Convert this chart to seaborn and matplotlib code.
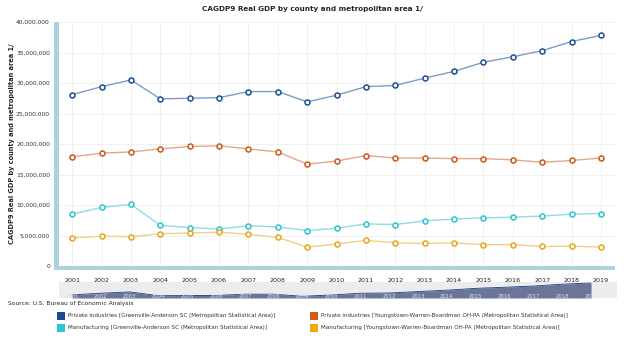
import matplotlib
matplotlib.use("Agg")
import matplotlib.pyplot as plt
from matplotlib.patches import Rectangle
import seaborn as sns
import pandas as pd
import numpy as np

years = list(range(2001, 2020))
private_greenville = [28.1, 29.4, 30.5, 27.4, 27.5, 27.6, 28.6, 28.6, 26.9, 28.0, 29.4, 29.6, 30.8,
                      31.9, 33.4, 34.3, 35.3, 36.8, 37.8]
private_youngstown = [17.9, 18.5, 18.7, 19.2, 19.6, 19.7, 19.2, 18.7, 16.7, 17.2, 18.1, 17.7, 17.7,
                      17.6, 17.6, 17.4, 17.0, 17.3, 17.7]
manuf_greenville = [8.5, 9.6, 10.1, 6.65, 6.3, 6.05, 6.6, 6.4, 5.8, 6.2, 6.9, 6.8, 7.4,
                    7.7, 7.9, 8.0, 8.2, 8.5, 8.6]
manuf_youngstown = [4.6, 4.9, 4.8, 5.3, 5.4, 5.55, 5.2, 4.7, 3.1, 3.6, 4.2, 3.8, 3.7,
                    3.8, 3.5, 3.5, 3.2, 3.25, 3.1]

series_names = [
    "Private industries [Greenville-Anderson SC (Metropolitan Statistical Area)]",
    "Private industries [Youngstown-Warren-Boardman OH-PA (Metropolitan Statistical Area)]",
    "Manufacturing [Greenville-Anderson SC (Metropolitan Statistical Area)]",
    "Manufacturing [Youngstown-Warren-Boardman OH-PA (Metropolitan Statistical Area)]",
]
series_values = [private_greenville, private_youngstown, manuf_greenville, manuf_youngstown]
marker_colors = ["#1d4f91", "#c8581d", "#2cc4cf", "#e8a617"]
line_colors = ["#7d9cc6", "#e3a88a", "#8fdde2", "#f2cf86"]
legend_colors = ["#1c4a8f", "#d9591b", "#2cc8d2", "#f5a90a"]

title = "CAGDP9 Real GDP by county and metropolitan area 1/"
ylabel = "CAGDP9 Real GDP by county and metropolitan area 1/"
source = "Source: U.S. Bureau of Economic Analysis"

rows = []
for name, vals in zip(series_names, series_values):
    for y, v in zip(years, vals):
        rows.append({"year": y, "value": v * 1e6, "series": name})
df = pd.DataFrame(rows)

sns.set_theme(style="white")
plt.rcParams["font.family"] = ["DejaVu Sans"]

W, H = 624, 344
fig = plt.figure(figsize=(W / 100, H / 100), dpi=100)
fig.patch.set_facecolor("white")

def px_axes(x0, y0, x1, y1):
    return fig.add_axes([x0 / W, 1 - y1 / H, (x1 - x0) / W, (y1 - y0) / H])

ax = px_axes(59, 22, 615, 266)
for i, name in enumerate(series_names):
    sub = df[df["series"] == name]
    sns.lineplot(data=sub, x="year", y="value", ax=ax, color=line_colors[i], lw=1.0,
                 marker="o", markersize=3.6, markerfacecolor="white",
                 markeredgecolor=marker_colors[i], markeredgewidth=1.1, legend=False)

ax.set_xlim(2000.55, 2019.48)
ax.set_ylim(0, 40e6)
ax.set_yticks(np.arange(0, 40e6 + 1, 5e6))
ax.set_yticklabels([f"{int(v):,}" for v in np.arange(0, 40e6 + 1, 5e6)], fontsize=4.3, color="#333333")
ax.set_xticks(years)
ax.set_xticklabels([str(y) for y in years], fontsize=4.6, color="#222222")
ax.tick_params(axis="y", pad=6.5, length=0)
ax.tick_params(axis="x", pad=9, length=0)
ax.grid(True, color="#eeeeee", lw=0.6)
ax.set_axisbelow(True)
for s in ax.spines.values():
    s.set_visible(False)
ax.set_xlabel("")
ax.set_ylabel(ylabel, fontsize=4.8, fontweight="bold", labelpad=0.5)

# light blue axis bars
fig.patches.append(Rectangle((54 / W, 1 - 270 / H), 5 / W, 248 / H, transform=fig.transFigure,
                             facecolor="#a9d3df", edgecolor="none"))
fig.patches.append(Rectangle((58 / W, 1 - 269.5 / H), 557 / W, 4 / H, transform=fig.transFigure,
                             facecolor="#a9d3df", edgecolor="none"))

fig.text(0.5, 1 - 9 / H, title, ha="center", va="center", fontsize=5.2, fontweight="bold")

# navigator
nav = px_axes(59, 282, 617, 298)
nav.set_facecolor("#ececec")
nav.fill_between(years, private_greenville, 25.5, color="#6a7699", lw=0)
nav.plot(years, [v + 0.35 for v in private_greenville], color="white", lw=0.8)
nav.plot(years, private_greenville, color="#2c4a84", lw=0.7)
nav.set_xlim(2000.55, 2019.9)
nav.set_ylim(25.5, 38.6)
for y in years:
    nav.text(y, 26.8, str(y), fontsize=3.8, color="#dfe3ee", ha="center", va="center")
nav.set_xticks([])
nav.set_yticks([])
for s in nav.spines.values():
    s.set_visible(False)

fig.text(8 / W, 1 - 303 / H, source, fontsize=4.3, va="center", ha="left", color="#222222")

# legend
leg_pos = [(57, 315.5), (310, 315.5), (57, 328), (310, 328)]
for (lx, ly), name, c in zip(leg_pos, series_names, legend_colors):
    fig.patches.append(Rectangle((lx / W, 1 - (ly + 4) / H), 8 / W, 8 / H, transform=fig.transFigure,
                                 facecolor=c, edgecolor="none"))
    fig.text((lx + 11) / W, 1 - ly / H, name, fontsize=4.1, va="center", ha="left", color="#333333")

fig.savefig("out.png", dpi=100)
